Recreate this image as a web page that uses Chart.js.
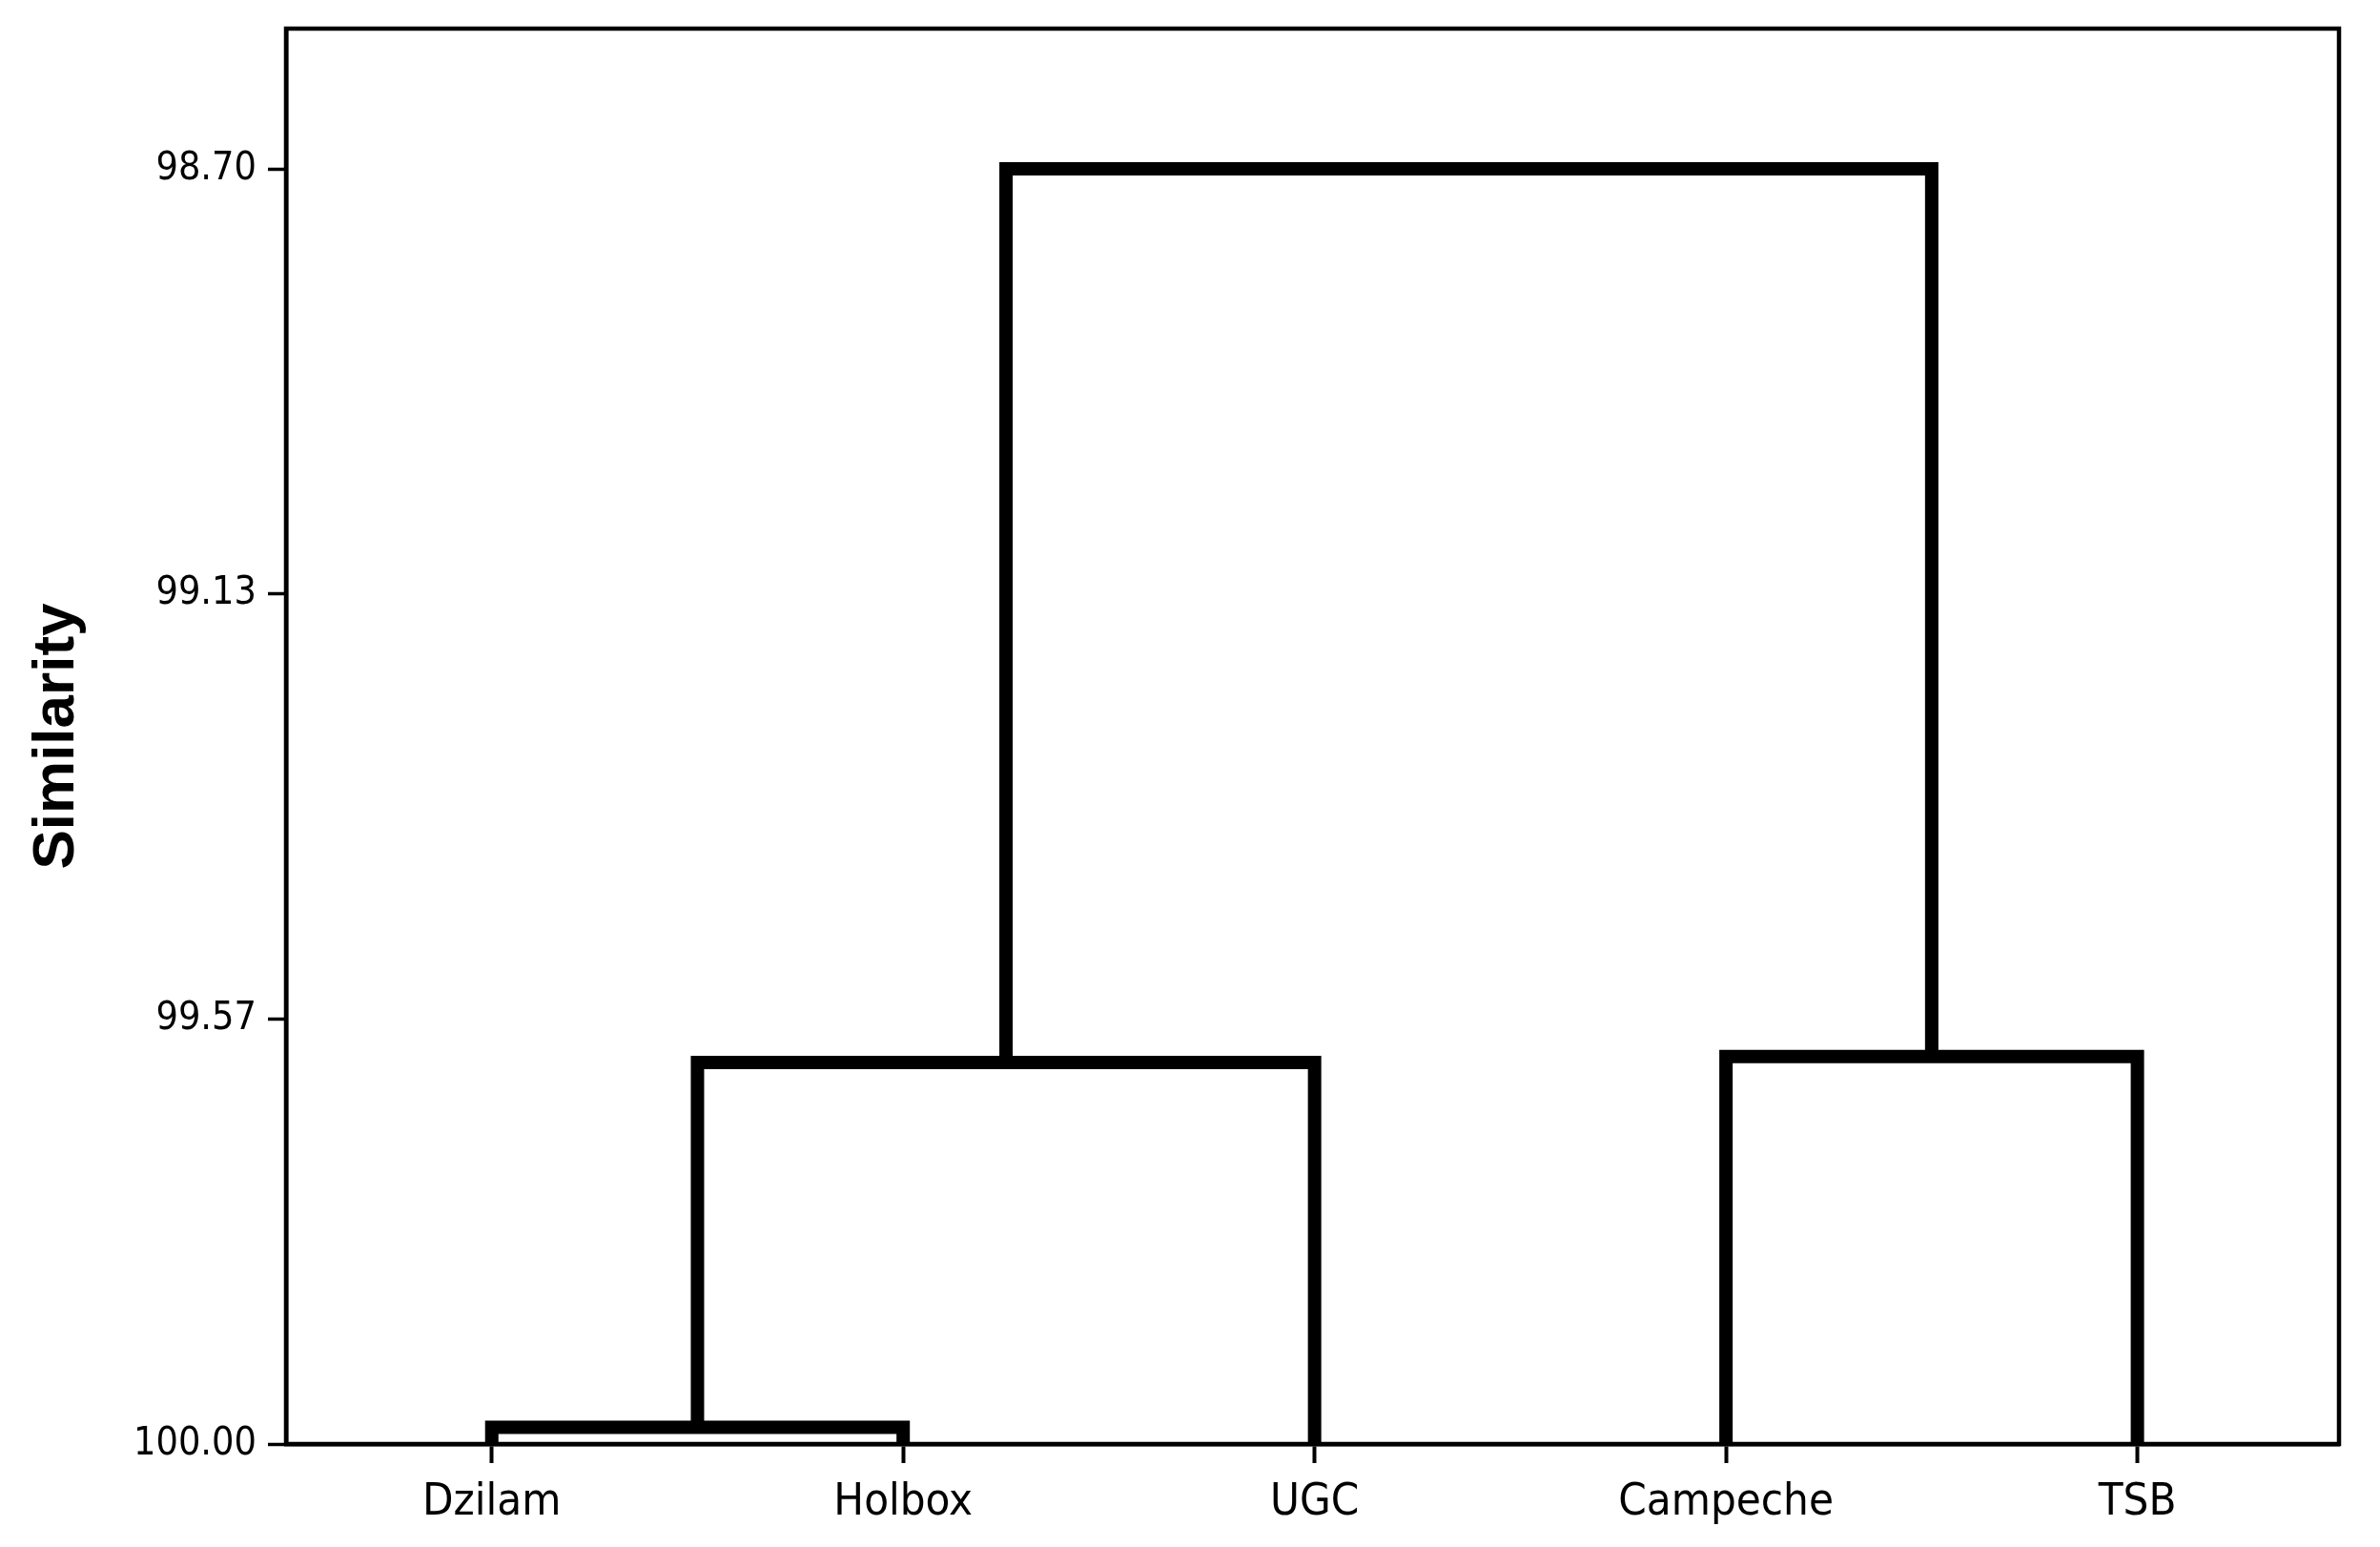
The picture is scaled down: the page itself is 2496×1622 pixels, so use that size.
<!DOCTYPE html>
<html>
<head>
<meta charset="utf-8">
<script src="https://cdn.jsdelivr.net/npm/chart.js@4/dist/chart.umd.min.js"></script>
<style>
html,body{margin:0;padding:0;background:#ffffff;}
#wrap{width:2496px;height:1622px;}
</style>
</head>
<body>
<div id="wrap"><canvas id="c" width="2496" height="1622"></canvas></div>
<script>
// ---- data ----
const leafLabels = ['Dzilam', 'Holbox', 'UGC', 'Campeche', 'TSB'];
const leafPositions = [1, 2, 3, 4, 5];
const leafSimilarity = [100, 100, 100, 100, 100];
// merge steps: node ids 0-4 are leaves, merged clusters get ids 5, 6, 7, 8
const mergeLeft = [0, 5, 3, 6];
const mergeRight = [1, 2, 4, 7];
const mergeSimilarity = [99.983, 99.611, 99.605, 98.70];
const yTickValues = [98.70, 99.1333, 99.5667, 100.00];
const yAxisTitle = 'Similarity';

// ---- build dendrogram links from the tree ----
const nodeX = leafPositions.slice();
const nodeY = leafSimilarity.slice();
const datasets = [];
for (let i = 0; i < mergeLeft.length; i++) {
  const l = mergeLeft[i], r = mergeRight[i], h = mergeSimilarity[i];
  datasets.push({
    data: [
      {x: nodeX[l], y: nodeY[l]},
      {x: nodeX[l], y: h},
      {x: nodeX[r], y: h},
      {x: nodeX[r], y: nodeY[r]}
    ],
    showLine: true,
    borderColor: '#000000',
    backgroundColor: '#000000',
    borderWidth: 14,
    borderJoinStyle: 'miter',
    borderCapStyle: 'butt',
    pointRadius: 0,
    tension: 0,
    clip: false
  });
  nodeX.push((nodeX[l] + nodeX[r]) / 2);
  nodeY.push(h);
}

const tickFont = "'DejaVu Sans Condensed', 'Liberation Sans Narrow', 'DejaVu Sans', sans-serif";

const framePlugin = {
  id: 'frame',
  afterDraw(chart) {
    const {ctx, chartArea: a} = chart;
    ctx.save();
    ctx.strokeStyle = '#000000';
    ctx.lineWidth = 4.5;
    ctx.strokeRect(a.left, a.top, a.right - a.left, a.bottom - a.top);
    ctx.restore();
  }
};

new Chart(document.getElementById('c'), {
  type: 'scatter',
  data: {datasets},
  options: {
    responsive: false,
    devicePixelRatio: 1,
    animation: false,
    layout: {padding: {top: 30, right: 43, left: 0, bottom: 0}},
    plugins: {legend: {display: false}, tooltip: {enabled: false}},
    scales: {
      x: {
        type: 'linear',
        min: 0.5,
        max: 5.49,
        afterBuildTicks(scale) { scale.ticks = leafPositions.map(v => ({value: v})); },
        afterFit(scale) { scale.height = 108; scale.paddingLeft = 0; scale.paddingRight = 0; },
        ticks: {
          callback: (v) => leafLabels[leafPositions.indexOf(v)],
          font: {family: tickFont, size: 47},
          color: '#000000',
          padding: 14,
          maxRotation: 0,
          autoSkip: false
        },
        grid: {drawOnChartArea: false, drawTicks: true, tickLength: 20, tickWidth: 4, tickColor: '#000000'},
        border: {display: true, color: '#000000', width: 4.5}
      },
      y: {
        type: 'linear',
        reverse: true,
        min: 98.557,
        max: 100,
        afterBuildTicks(scale) { scale.ticks = yTickValues.map(v => ({value: v})); },
        afterFit(scale) { scale.width = 300; scale.paddingTop = 0; scale.paddingBottom = 0; },
        ticks: {
          callback: (v) => Number(v).toFixed(2),
          font: {family: tickFont, size: 41},
          color: '#000000',
          padding: 12,
          autoSkip: false
        },
        grid: {drawOnChartArea: false, drawTicks: true, tickLength: 19, tickWidth: 3.5, tickColor: '#000000'},
        border: {display: true, color: '#000000', width: 4.5},
        title: {
          display: true,
          text: yAxisTitle,
          color: '#000000',
          font: {family: "'Liberation Sans', Arial, sans-serif", weight: 'bold', size: 62},
          padding: {top: 23, bottom: 0}
        }
      }
    }
  },
  plugins: [framePlugin]
});
</script>
</body>
</html>
